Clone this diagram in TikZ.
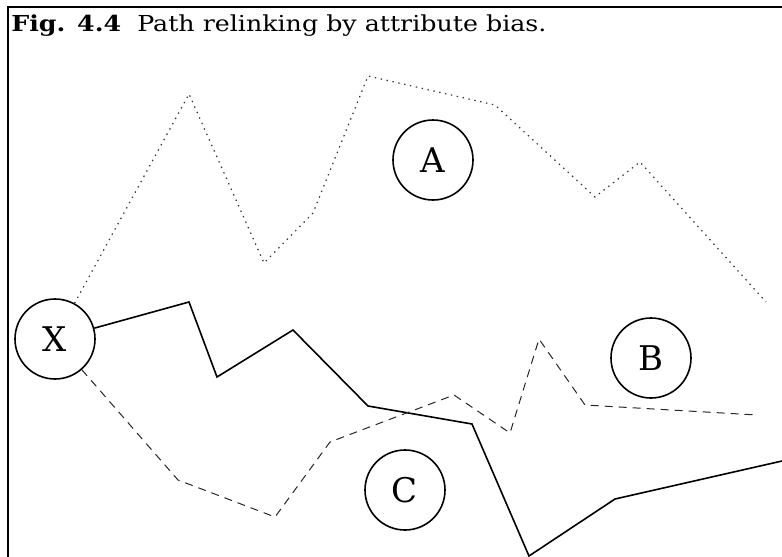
\documentclass[tikz,border=0pt]{standalone}
\usepackage{fontspec}
\setmainfont{DejaVu Serif}
\newfontfamily\capfont{DejaVu Serif}[FakeStretch=1.15]

\begin{document}
\begin{tikzpicture}[x=0.5pt,y=-0.5pt,font=\fontsize{11}{13}\capfont]
  \tikzset{
    site/.style={draw,circle,line width=0.8pt,minimum size=40pt,inner sep=0pt,font=\fontsize{17}{20}\rmfamily},
    walk/.style={line width=0.8pt},
    dotwalk/.style={black!80,line width=0.6pt,dash pattern=on 0.7pt off 2.3pt},
    dashwalk/.style={black!85,line width=0.5pt,dash pattern=on 4pt off 3pt}
  }
  \useasboundingbox (0,0) rectangle (782,557);

  % frame and caption
  \draw[line width=1.3pt] (8,557) -- (8,7) -- (782,7);
  \node[anchor=base west,inner sep=0pt] (cap) at (11,32) {\textbf{Fig. 4.4}\ \ Path relinking by attribute bias.};

  % solutions
  \node[site] (X) at (55,339) {X};
  \node[site] (A) at (433,160) {A};
  \node[site] (B) at (651,358) {B};
  \node[site] (C) at (405,490) {C};

  % free ends of the walks
  \coordinate (endA) at (766,302);
  \coordinate (endB) at (757,415);
  \coordinate (endR) at (782,461);

  % dotted walk
  \draw[dotwalk] (X) -- (189,94) -- (264,263) -- (313,213) -- (368,76) -- (495,105)
    -- (595,197) -- (640,162) -- (endA);

  % solid walk
  \draw[walk] (X) -- (189,302) -- (217,377) -- (293,330) -- (368,406) -- (472,424)
    -- (529,556) -- (615,499) -- (endR);

  % dashed walk
  \draw[dashwalk] (X) -- (178,480) -- (275,517) -- (330,442) -- (454,395) -- (510,433)
    -- (539,339) -- (585,405) -- (endB);
\end{tikzpicture}
\end{document}
